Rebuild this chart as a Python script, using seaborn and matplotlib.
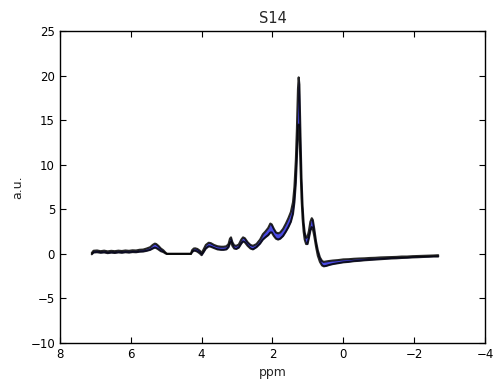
import numpy as np
import pandas as pd
import matplotlib
matplotlib.use("Agg")
import matplotlib.pyplot as plt
import seaborn as sns

ppm = [7.10, 7.05, 6.95, 6.85, 6.75, 6.65, 6.55, 6.45, 6.35, 6.25, 6.15, 6.05, 5.95, 5.85, 5.75, 5.65, 5.55,
       5.45, 5.38, 5.32, 5.28, 5.22, 5.15, 5.08, 5.02, 4.98,
       4.30, 4.27, 4.22, 4.18, 4.12, 4.05, 4.00, 3.95, 3.88, 3.80, 3.74, 3.65, 3.55, 3.45,
       3.38, 3.30, 3.24, 3.20, 3.17, 3.13, 3.08, 3.02, 2.95, 2.88, 2.83, 2.78, 2.70, 2.62, 2.55,
       2.45, 2.35, 2.27, 2.20, 2.12, 2.06, 2.02, 1.96, 1.90, 1.84, 1.78, 1.70, 1.62, 1.55, 1.48,
       1.42, 1.38, 1.34, 1.31, 1.28, 1.26, 1.24, 1.21, 1.18, 1.15, 1.12, 1.09, 1.05, 1.01,
       0.97, 0.93, 0.89, 0.86, 0.82, 0.77, 0.72, 0.66, 0.60, 0.55, 0.48, 0.40,
       0.30, 0.15, 0.00, -0.15, -0.30, -0.45, -0.60, -0.75, -0.90, -1.05, -1.20, -1.35, -1.50,
       -1.65, -1.80, -1.95, -2.10, -2.25, -2.40, -2.55, -2.68]

upper = [0.10, 0.35, 0.38, 0.30, 0.36, 0.28, 0.34, 0.30, 0.36, 0.32, 0.38, 0.34, 0.40, 0.38, 0.46, 0.48, 0.60,
         0.75, 1.00, 1.15, 1.10, 0.90, 0.60, 0.40, 0.15, 0.00,
         0.00, 0.40, 0.60, 0.62, 0.55, 0.35, 0.10, 0.45, 1.00, 1.25, 1.20, 1.00, 0.85, 0.80,
         0.80, 0.85, 1.10, 1.70, 1.85, 1.30, 0.95, 0.90, 1.05, 1.60, 1.85, 1.75, 1.30, 1.00, 0.90,
         1.10, 1.60, 2.20, 2.50, 2.90, 3.40, 3.30, 2.80, 2.40, 2.30, 2.40, 2.80, 3.40, 4.00, 4.70,
         5.80, 7.50, 10.5, 14.0, 18.5, 19.8, 19.0, 13.5, 8.50, 5.40, 3.50, 2.40, 1.80, 1.90,
         2.60, 3.60, 4.00, 3.80, 2.80, 1.40, 0.40, -0.40, -0.80, -0.90, -0.85, -0.80,
         -0.75, -0.70, -0.62, -0.60, -0.55, -0.52, -0.50, -0.46, -0.44, -0.40, -0.38, -0.36, -0.34,
         -0.30, -0.30, -0.26, -0.24, -0.22, -0.20, -0.18, -0.15]

lower = [-0.05, 0.15, 0.18, 0.12, 0.16, 0.08, 0.14, 0.10, 0.16, 0.12, 0.18, 0.14, 0.20, 0.18, 0.24, 0.26, 0.34,
         0.45, 0.60, 0.70, 0.65, 0.50, 0.30, 0.20, 0.05, 0.00,
         0.00, 0.20, 0.35, 0.35, 0.25, 0.05, -0.15, 0.15, 0.60, 0.85, 0.80, 0.65, 0.50, 0.45,
         0.45, 0.50, 0.75, 1.20, 1.35, 0.90, 0.60, 0.55, 0.70, 1.15, 1.40, 1.30, 0.90, 0.60, 0.50,
         0.75, 1.15, 1.60, 1.85, 2.10, 2.40, 2.40, 2.00, 1.70, 1.60, 1.70, 2.00, 2.50, 3.00, 3.60,
         4.50, 5.80, 8.00, 10.8, 13.8, 14.5, 14.0, 10.0, 6.30, 4.00, 2.50, 1.60, 1.10, 1.10,
         1.80, 2.60, 3.00, 2.80, 2.00, 0.80, -0.20, -0.90, -1.30, -1.40, -1.35, -1.25,
         -1.15, -1.05, -0.95, -0.90, -0.82, -0.78, -0.72, -0.68, -0.64, -0.60, -0.56, -0.52, -0.50,
         -0.46, -0.44, -0.40, -0.38, -0.35, -0.33, -0.30, -0.30]

assert len(ppm) == len(upper) == len(lower)

sns.set_style("ticks", {"xtick.direction": "in", "ytick.direction": "in",
                        "xtick.top": True, "ytick.right": True,
                        "axes.edgecolor": "black"})
plt.rcParams['font.family'] = ['DejaVu Sans']

fig = plt.figure(figsize=(4.99, 3.90), dpi=100)
ax = fig.add_axes([0.120, 0.1205, 0.852, 0.80])

ax.fill_between(ppm, lower, upper, color="#2a2ae0", alpha=0.85, linewidth=0)
df = pd.DataFrame({"ppm": ppm * 2, "val": upper + lower,
                   "bound": ["upper"] * len(ppm) + ["lower"] * len(ppm)})
sns.lineplot(data=df, x="ppm", y="val", units="bound", estimator=None, sort=False,
             color="black", linewidth=1.5, alpha=0.85, ax=ax, legend=False)

ax.set_xlim(8, -4)
ax.set_ylim(-10, 25)
ax.set_xticks([8, 6, 4, 2, 0, -2, -4])
ax.set_yticks([-10, -5, 0, 5, 10, 15, 20, 25])
ax.tick_params(labelsize=8.5, length=4, width=0.8, colors="black")
for s in ax.spines.values():
    s.set_linewidth(1.0)
ax.set_xlabel("ppm", fontsize=9)
ax.set_ylabel("a.u.", fontsize=9)
ax.set_title("S14", fontsize=10.5)

fig.savefig("out.png", dpi=100)
